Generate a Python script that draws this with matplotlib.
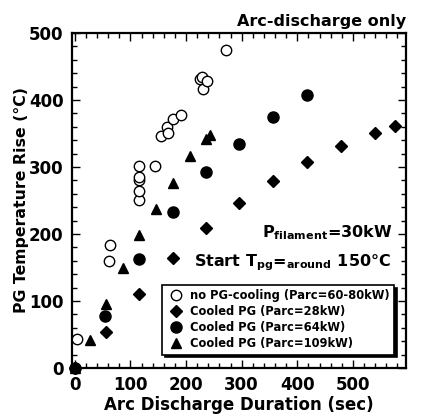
import matplotlib
matplotlib.use("Agg")

import matplotlib.pyplot as plt
from matplotlib.ticker import MultipleLocator

plt.rcParams["font.family"] = "DejaVu Sans"
plt.rcParams["font.weight"] = "bold"
plt.rcParams["mathtext.fontset"] = "custom"
plt.rcParams["mathtext.rm"] = "DejaVu Sans:bold"
plt.rcParams["mathtext.default"] = "rm"

# no PG-cooling (Parc=60-80kW)
nocool_x = [4, 61, 64, 116, 116, 116, 116, 116, 144, 155, 165, 167, 176, 190,
            225, 228, 230, 237, 271]
nocool_y = [44, 160, 184, 250, 264, 280, 285, 301, 301, 346, 360, 351, 371, 378,
            432, 435, 416, 429, 474]

# Cooled PG (Parc=28kW)
p28_x = [0, 56, 116, 176, 236, 296, 357, 418, 478, 539, 575]
p28_y = [0, 53, 111, 164, 209, 246, 279, 307, 331, 350, 361]

# Cooled PG (Parc=64kW)
p64_x = [0, 55, 116, 176, 236, 296, 357, 418]
p64_y = [0, 78, 162, 233, 293, 335, 374, 408]

# Cooled PG (Parc=109kW)
p109_x = [0, 27, 56, 86, 116, 146, 176, 207, 236, 243]
p109_y = [0, 42, 95, 149, 199, 238, 276, 316, 342, 348]

fig = plt.figure(figsize=(4.29, 4.16), dpi=100)
ax = fig.add_axes([0.168, 0.1154, 0.7777, 0.8053])

ax.plot(p28_x, p28_y, "D", color="black", markersize=6, linestyle="none",
        label="Cooled PG (Parc=28kW)", clip_on=False, zorder=3)
ax.plot(p64_x, p64_y, "o", color="black", markersize=8, linestyle="none",
        label="Cooled PG (Parc=64kW)", clip_on=False, zorder=3)
ax.plot(p109_x, p109_y, "^", color="black", markersize=7.5, linestyle="none",
        label="Cooled PG (Parc=109kW)", clip_on=False, zorder=3)
ax.plot(nocool_x, nocool_y, "o", markerfacecolor="white", markeredgecolor="black",
        markeredgewidth=1.0, markersize=7.5, linestyle="none",
        label="no PG-cooling (Parc=60-80kW)", clip_on=False, zorder=4)

ax.set_xlim(-5, 595)
ax.set_ylim(0, 500)
ax.xaxis.set_major_locator(MultipleLocator(100))
ax.xaxis.set_minor_locator(MultipleLocator(20))
ax.yaxis.set_major_locator(MultipleLocator(100))
ax.yaxis.set_minor_locator(MultipleLocator(20))
ax.tick_params(which="both", direction="in", top=True, right=True, width=1.0)
ax.tick_params(which="major", length=6, labelsize=12, pad=6)
ax.tick_params(which="minor", length=3.5)
for lab in ax.get_xticklabels() + ax.get_yticklabels():
    lab.set_fontweight("bold")
for sp in ax.spines.values():
    sp.set_linewidth(1.6)

ax.set_xlabel("Arc Discharge Duration (sec)", fontsize=12, fontweight="bold", labelpad=1)
ax.set_ylabel("PG Temperature Rise (\u00b0C)", fontsize=11.3, fontweight="bold", labelpad=0)

ax.text(1.0, 1.012, "Arc-discharge only", transform=ax.transAxes, ha="right",
        va="bottom", fontsize=11.5, fontweight="bold")
ax.text(0.96, 0.405, r"P$_{\mathregular{filament}}$=30kW", transform=ax.transAxes,
        ha="right", va="center", fontsize=11.5, fontweight="bold")
ax.text(0.955, 0.315, r"Start T$_{\mathregular{pg}}$=$_{\mathregular{around}}$ 150$\degree$C",
        transform=ax.transAxes, ha="right", va="center", fontsize=11.5,
        fontweight="bold")

handles, labels = ax.get_legend_handles_labels()
order = [3, 0, 1, 2]
leg = ax.legend([handles[i] for i in order], [labels[i] for i in order],
                loc="lower right", bbox_to_anchor=(0.965, 0.04),
                borderaxespad=0, fancybox=False, framealpha=1,
                shadow={"color": "black", "alpha": 1},
                prop={"size": 8.3, "weight": "bold"}, handletextpad=0.4,
                labelspacing=0.25, borderpad=0.4, handlelength=1.6)
leg.get_frame().set_edgecolor("black")
leg.get_frame().set_linewidth(1.2)

fig.savefig("out.png", dpi=100)
